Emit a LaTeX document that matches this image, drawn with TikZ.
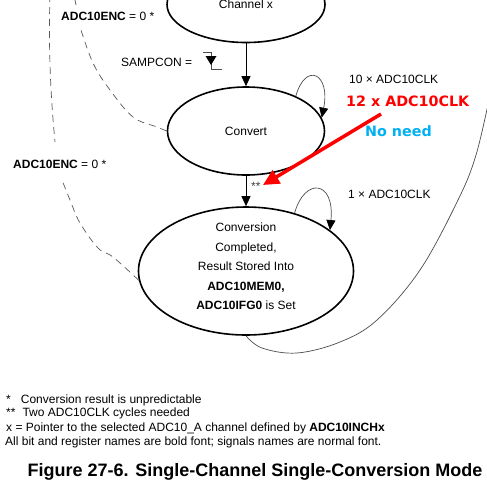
\documentclass[tikz,border=0pt]{standalone}
\usepackage{fontspec}
\setmainfont{Liberation Sans}
\newfontfamily\dejavu{DejaVu Sans}
\usetikzlibrary{shapes.geometric,arrows.meta}
\definecolor{needblue}{RGB}{0,176,240}
\definecolor{redmark}{RGB}{255,0,0}
\begin{document}
\begin{tikzpicture}[x=1pt,y=-1pt,
  font=\fontsize{12}{14}\selectfont,
  state/.style={ellipse, draw, line width=1.6pt, inner sep=0pt, align=center},
  flow/.style={draw, line width=0.8pt, -{Triangle[length=10pt,width=9pt]}},
  loopline/.style={draw=black!70, line width=0.7pt, -{Triangle[length=10pt,width=9pt,black]}},
  dashline/.style={draw=black!65, line width=0.7pt, dash pattern=on 7pt off 5pt},
  thinline/.style={draw=black!70, line width=0.7pt},
  lbl/.style={anchor=base west, inner sep=0pt},
  redarrow/.style={draw=redmark, line width=3.5pt, -{Triangle[length=16pt,width=15pt]}}]
\useasboundingbox (0,0) rectangle (487,480);
\clip (0,0) rectangle (487,480);

% states
\node[state, minimum width=158pt, minimum height=76pt] (chan) at (246,4.5) {Channel x};
\node[state, minimum width=157pt, minimum height=88pt] (conv) at (246,131) {Convert};
\node[state, minimum width=215pt, minimum height=128pt] (done) at (246,271) {};
\node[align=center, inner sep=0pt, font=\fontsize{12}{19.6}\selectfont] (donetext) at (246,266.5)
  {Conversion\\Completed,\\Result Stored Into\\\textbf{ADC10MEM0,}\\\textbf{ADC10IFG0} is Set};

% main flow
\draw[flow] (chan.south) -- (conv.north);
\draw[flow] (conv.south) -- (done.north);

% self loops
\draw[loopline] (conv.35) .. controls +(10,-35) and +(9,-44) .. (conv.10);
\draw[loopline] (done.50) .. controls +(10,-36) and +(5,-50) .. (done.26);

% return curve to the right
\draw[thinline] plot[smooth, tension=0.6] coordinates {(done.south) (262,348) (297,353) (340,342) (377,320) (420,270) (458,200) (476,155) (490,95)};

% dashed curves
\draw[dashline] plot[smooth, tension=0.6] coordinates {(conv.west) (157,127) (133,117) (110,90) (93,63) (80,27)};
\draw[dashline] (76,5) -- (74,-5);
\draw[dashline] (50,-5) .. controls (48,60) and (52,110) .. (55,142);
\draw[dashline] plot[smooth, tension=0.6] coordinates {(done.185) (113,257) (98,248) (80,223) (70,200) (62,180)};

% falling edge symbol
\draw[thinline] (203,52) -- (211,52) -- (211,69) -- (222,69);
\fill (205.5,56) -- (216.5,56) -- (211,65) -- cycle;

% labels
\node[lbl] (l1) at (61,20.3) {\textbf{ADC10ENC} = 0 *};
\node[lbl] (l2) at (13,168.5) {\textbf{ADC10ENC} = 0 *};
\node[lbl] (l3) at (121,66.3) {SAMPCON =};
\node[lbl] (l4) at (349,83.3) {10 × ADC10CLK};
\node[lbl] (l5) at (348,198.3) {1 × ADC10CLK};
\node[lbl, text=black!75] (l6) at (251,190.6) {**};
\node[lbl, text=redmark, font=\dejavu\bfseries\fontsize{14.3}{16}\selectfont] (l7) at (346,106.2) {12 x ADC10CLK};
\node[lbl, text=needblue, font=\dejavu\bfseries\fontsize{14.3}{16}\selectfont] (l8) at (365,136) {No need};

% red annotation arrow
\coordinate (redstart) at (381,114);
\coordinate (redend) at (263,185);
\draw[redarrow] (redstart) -- (redend);

% footnotes
\node[lbl] (f1) at (6,403.3) {*\hspace{10pt}Conversion result is unpredictable};
\node[lbl] (f2) at (6,416.3) {**\hspace{7pt}Two ADC10CLK cycles needed};
\node[lbl] (f3) at (6,431.3) {x = Pointer to the selected ADC10\_A channel defined by \textbf{ADC10INCHx}};
\node[lbl] (f4) at (5,445.3) {All bit and register names are bold font; signals names are normal font.};
\node[anchor=base, inner sep=0pt, font=\bfseries\fontsize{18}{20}\selectfont] (cap) at (255,476.5) {Figure 27-6. Single-Channel Single-Conversion Mode};
\end{tikzpicture}
\end{document}
